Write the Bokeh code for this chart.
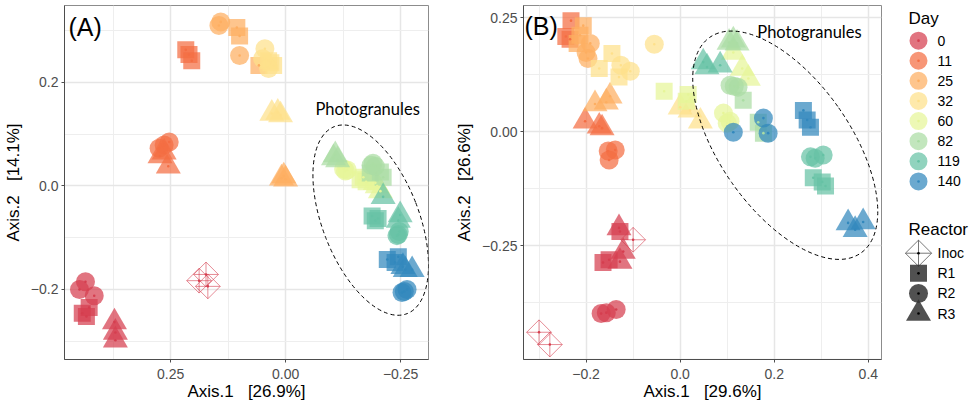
import math
from bokeh.plotting import figure
from bokeh.models import Range1d, FixedTicker, Label, ColumnDataSource
from bokeh.layouts import row
from bokeh.embed import file_html
from bokeh.resources import INLINE
from bokeh.core.properties import value

# ---------------- data ----------------
DAYS = [0, 11, 25, 32, 60, 82, 119, 140]
DAY_COLORS = ["#D53E4F", "#F46D43", "#FDAE61", "#FEE08B",
              "#E6F598", "#ABDDA4", "#66C2A5", "#3288BD"]
REACTORS = ["Inoc", "R1", "R2", "R3"]

sample_day = [0, 0, 0, 0, 0, 0, 0, 0, 0, 0, 0, 0,
              11, 11, 11, 11, 11, 11, 11, 11, 11,
              25, 25, 25, 25, 25, 25, 25, 25, 25,
              32, 32, 32, 32, 32, 32, 32, 32, 32,
              60, 60, 60, 60, 60, 60, 60, 60, 60,
              82, 82, 82, 82, 82, 82, 82, 82, 82,
              119, 119, 119, 119, 119, 119, 119, 119, 119,
              140, 140, 140, 140, 140, 140, 140, 140, 140]
sample_reactor = (["R1", "R1", "R1", "R2", "R2", "R2", "R3", "R3", "R3", "Inoc", "Inoc", "Inoc"]
                  + ["R1", "R1", "R1", "R2", "R2", "R2", "R3", "R3", "R3"] * 7)

# Panel A ordination (Axis.1 26.9 %, Axis.2 14.1 %)
a_x = [0.442, 0.427, 0.433, 0.435, 0.448, 0.416, 0.372, 0.370, 0.370, 0.188, 0.173, 0.169,
       0.217, 0.210, 0.204, 0.275, 0.253, 0.264, 0.273, 0.255, 0.264,
       0.106, 0.100, 0.058, 0.141, 0.145, 0.100, 0.009, 0.004, 0.000,
       0.032, 0.026, 0.037, 0.045, 0.037, 0.050, 0.030, 0.017, 0.011,
       -0.162, -0.169, -0.175, -0.130, -0.134, -0.126, -0.199, -0.206, -0.195,
       -0.212, -0.184, -0.206, -0.190, -0.195, -0.186, -0.108, -0.113, -0.104,
       -0.188, -0.201, -0.195, -0.245, -0.247, -0.242, -0.212, -0.249, -0.245,
       -0.221, -0.245, -0.238, -0.253, -0.264, -0.258, -0.255, -0.275, -0.260]
a_y = [-0.246, -0.235, -0.252, -0.185, -0.200, -0.212, -0.263, -0.283, -0.298, -0.183, -0.171, -0.194,
       0.263, 0.254, 0.242, 0.073, 0.085, 0.079, 0.058, 0.038, 0.065,
       0.306, 0.290, 0.233, 0.317, 0.310, 0.252, 0.015, 0.019, 0.013,
       0.238, 0.233, 0.242, 0.265, 0.227, 0.246, 0.140, 0.142, 0.137,
       0.012, 0.017, 0.008, 0.029, 0.031, 0.033, 0.000, -0.010, 0.006,
       0.017, 0.025, 0.027, 0.044, 0.038, 0.040, 0.060, 0.050, 0.054,
       -0.058, -0.063, -0.067, -0.094, -0.088, -0.096, -0.021, -0.056, -0.067,
       -0.142, -0.137, -0.148, -0.206, -0.200, -0.204, -0.156, -0.162, -0.162]

# Panel B ordination (Axis.1 29.6 %, Axis.2 26.6 %)
b_x = [-0.128, -0.164, -0.151, -0.168, -0.157, -0.136, -0.130, -0.121, -0.128, -0.100, -0.300, -0.277,
       -0.232, -0.243, -0.234, -0.153, -0.138, -0.151, -0.202, -0.172, -0.166,
       -0.206, -0.219, -0.213, -0.191, -0.200, -0.196, -0.181, -0.149, -0.157,
       -0.145, -0.172, -0.130, -0.126, -0.106, -0.055, 0.000, 0.021, 0.043,
       -0.034, 0.017, 0.013, 0.092, 0.106, 0.100, 0.113, 0.132, 0.145,
       0.134, 0.166, 0.177, 0.106, 0.123, 0.115, 0.104, 0.121, 0.113,
       0.283, 0.302, 0.309, 0.277, 0.287, 0.304, 0.049, 0.057, 0.085,
       0.262, 0.270, 0.277, 0.113, 0.177, 0.187, 0.357, 0.372, 0.389]
b_y = [-0.219, -0.287, -0.281, -0.399, -0.397, -0.390, -0.211, -0.263, -0.285, -0.237, -0.440, -0.467,
       0.244, 0.209, 0.203, -0.042, -0.040, -0.062, 0.023, 0.012, 0.008,
       0.233, 0.194, 0.212, 0.194, 0.174, 0.161, 0.061, 0.078, 0.065,
       0.172, 0.139, 0.120, 0.146, 0.133, 0.192, 0.054, 0.047, 0.023,
       0.089, 0.082, 0.067, 0.041, 0.023, 0.019, 0.174, 0.139, 0.117,
       0.069, 0.021, -0.003, 0.102, 0.098, 0.100, 0.196, 0.194, 0.201,
       -0.101, -0.110, -0.119, -0.055, -0.058, -0.051, 0.153, 0.142, 0.146,
       0.047, 0.026, 0.010, -0.001, 0.030, -0.003, -0.200, -0.215, -0.198]

A_XTICKS, A_XMINOR = [0.25, 0.0, -0.25], [0.375, 0.125, -0.125]
A_YTICKS, A_YMINOR = [-0.2, 0.0, 0.2], [-0.3, -0.1, 0.1, 0.3]
B_XTICKS, B_XMINOR = [-0.2, 0.0, 0.2, 0.4], [-0.3, -0.1, 0.1, 0.3]
B_YTICKS, B_YMINOR = [-0.5, -0.25, 0.0, 0.25], [-0.375, -0.125, 0.125]

NB = "\u00a0"
A_XLABEL = "Axis.1" + NB * 3 + "[26.9%]"
A_YLABEL = "Axis.2" + NB * 3 + "[14.1%]"
B_XLABEL = "Axis.1" + NB * 3 + "[29.6%]"
B_YLABEL = "Axis.2" + NB * 3 + "[26.6%]"

# ---------------- styling ----------------
FONT = "Liberation Sans"
MARKERS = {"R1": "square", "R2": "circle", "R3": "triangle"}
SIZES = {"R1": 17, "R2": 19, "R3": 25}
COLOR_OF = dict(zip(DAYS, DAY_COLORS))
ALPHA = 0.72
INOC_SIZE = 17.5
PANEL_H = 403


def fmt(v, nd):
    s = f"{abs(v):.{nd}f}"
    return ("\u2212" + s) if v < 0 else s


def make_panel(xs, ys, xr, yr, xt, xm, xnd, yt, ym, ynd, xlabel, ylabel,
               tag, tag_xy, photo_xy, ell, width, left, right):
    p = figure(width=width, height=PANEL_H, x_range=Range1d(*xr), y_range=Range1d(*yr),
               toolbar_location=None, output_backend="svg",
               min_border_left=left, min_border_right=right,
               min_border_top=5, min_border_bottom=43)
    p.background_fill_color = "white"
    p.outline_line_color = "#8C8C8C"
    p.outline_line_width = 1

    p.xaxis.ticker = FixedTicker(ticks=xt, minor_ticks=xm)
    p.yaxis.ticker = FixedTicker(ticks=yt, minor_ticks=ym)
    p.xaxis.major_label_overrides = {t: fmt(t, xnd) for t in xt}
    p.yaxis.major_label_overrides = {t: fmt(t, ynd) for t in yt}
    for ax in (p.xaxis, p.yaxis):
        ax.major_label_text_font = FONT
        ax.major_label_text_font_size = "14px"
        ax.major_label_text_color = "#4D4D4D"
        ax.axis_label_text_font = FONT
        ax.axis_label_text_font_size = "17px"
        ax.axis_label_text_font_style = "normal"
        ax.axis_label_text_color = "black"
        ax.axis_line_color = "#4D4D4D"
        ax.major_tick_line_color = "#4D4D4D"
        ax.major_tick_out = 3
        ax.major_tick_in = 0
        ax.minor_tick_out = 0
        ax.minor_tick_in = 0
    p.xaxis.major_label_standoff = 6
    p.xaxis.axis_label_standoff = 0
    p.yaxis.major_label_standoff = 3
    p.yaxis.axis_label_standoff = 5
    p.xaxis.axis_label = xlabel
    p.yaxis.axis_label = ylabel

    for g in (p.xgrid, p.ygrid):
        g.grid_line_color = "#E6E6E6"
        g.grid_line_width = 1.5
        g.minor_grid_line_color = "#EEEEEE"
        g.minor_grid_line_width = 1

    # filled markers (R1/R2/R3)
    idx = [i for i, r in enumerate(sample_reactor) if r != "Inoc"]
    src = ColumnDataSource(dict(
        x=[xs[i] for i in idx], y=[ys[i] for i in idx],
        color=[COLOR_OF[sample_day[i]] for i in idx],
        marker=[MARKERS[sample_reactor[i]] for i in idx],
        size=[SIZES[sample_reactor[i]] for i in idx]))
    p.scatter("x", "y", source=src, marker="marker", size="size",
              fill_color="color", fill_alpha=ALPHA, line_color=None)
    p.scatter("x", "y", source=src, marker="circle", size=2.6,
              fill_color="color", fill_alpha=1, line_color=None)

    # inoculum: open diamond with plus
    idi = [i for i, r in enumerate(sample_reactor) if r == "Inoc"]
    srci = ColumnDataSource(dict(x=[xs[i] for i in idi], y=[ys[i] for i in idi],
                                 color=[COLOR_OF[sample_day[i]] for i in idi]))
    p.scatter("x", "y", source=srci, marker="square_x", size=INOC_SIZE, angle=math.pi / 4,
              fill_color=None, line_color="color", line_alpha=0.75, line_width=0.8)
    p.scatter("x", "y", source=srci, marker="circle", size=2.6,
              fill_color="color", line_color=None)

    # photogranule ellipse
    ex, ey, ew, eh, ea = ell
    p.ellipse(x=[ex], y=[ey], width=[ew], height=[eh], angle=math.radians(ea),
              fill_color=None, line_color="black", line_dash="4 3", line_width=1)

    p.add_layout(Label(x=photo_xy[0], y=photo_xy[1], text="Photogranules",
                       text_font="Lato", text_font_size="16.5px", text_color="black",
                       text_baseline="middle", text_align="left"))
    p.add_layout(Label(x=tag_xy[0], y=tag_xy[1], text=tag, text_font=FONT,
                       text_font_size="25px", text_color="black",
                       text_baseline="middle", text_align="left"))
    return p


pA = make_panel(a_x, a_y, (0.4806, -0.3106), (-0.3353, 0.3487),
                A_XTICKS, A_XMINOR, 2, A_YTICKS, A_YMINOR, 1,
                A_XLABEL, A_YLABEL,
                "(A)", (0.472, 0.308), (-0.065, 0.148),
                (-0.185, -0.066, 0.2098, 0.388, 21.2),
                440, 63, 12)
pB = make_panel(b_x, b_y, (-0.333, 0.428), (-0.4998, 0.2772),
                B_XTICKS, B_XMINOR, 1, B_YTICKS, B_YMINOR, 2,
                B_XLABEL, B_YLABEL,
                "(B)", (-0.331, 0.233), (0.164, 0.220),
                (0.2234, -0.0295, 0.2774, 0.578, 35.0),
                442, 83, 1)

# ---------------- legend panel ----------------
LEG_W = 90
pL = figure(width=LEG_W, height=PANEL_H, x_range=Range1d(0, LEG_W), y_range=Range1d(PANEL_H, 0),
            toolbar_location=None, output_backend="svg", x_axis_type=None, y_axis_type=None,
            min_border=0)
pL.outline_line_color = None
pL.grid.visible = False

TITLE_X, KEY_X, LABEL_X = 26, 36, 55
DAY_TITLE_Y, DAY_Y0, STEP = 15, 40, 22.9
REAC_TITLE_Y, REAC_Y0 = 255, 282

pL.text(x=[TITLE_X, TITLE_X], y=[DAY_TITLE_Y, REAC_TITLE_Y], text=["Day", "Reactor"],
        text_font=value(FONT), text_font_size="17px", text_color="black",
        text_baseline="middle", text_align="left")
day_y = [DAY_Y0 + i * STEP for i in range(len(DAYS))]
pL.scatter(x=[KEY_X] * len(DAYS), y=day_y, marker="circle", size=18,
           fill_color=DAY_COLORS, fill_alpha=ALPHA, line_color=None)
pL.scatter(x=[KEY_X] * len(DAYS), y=day_y, marker="circle", size=2.6,
           fill_color=DAY_COLORS, line_color=None)
pL.text(x=[LABEL_X] * len(DAYS), y=day_y, text=[str(d) for d in DAYS],
        text_font=value(FONT), text_font_size="14px", text_color="black",
        text_baseline="middle", text_align="left")

reac_y = [REAC_Y0 + i * STEP for i in range(len(REACTORS))]
pL.scatter(x=[KEY_X], y=[reac_y[0]], marker="square_x", size=INOC_SIZE + 1, angle=math.pi / 4,
           fill_color=None, line_color="#555555", line_width=0.8)
pL.scatter(x=[KEY_X] * 3, y=reac_y[1:], marker=[MARKERS[r] for r in REACTORS[1:]],
           size=[SIZES[r] for r in REACTORS[1:]], fill_color="#333333", fill_alpha=0.85,
           line_color=None)
pL.scatter(x=[KEY_X] * 4, y=reac_y, marker="circle", size=2.6,
           fill_color="black", line_color=None)
pL.text(x=[LABEL_X] * len(REACTORS), y=reac_y, text=REACTORS,
        text_font=value(FONT), text_font_size="14px", text_color="black",
        text_baseline="middle", text_align="left")

layout = row(pA, pB, pL)
open("out.html", "w").write(file_html(layout, INLINE))
